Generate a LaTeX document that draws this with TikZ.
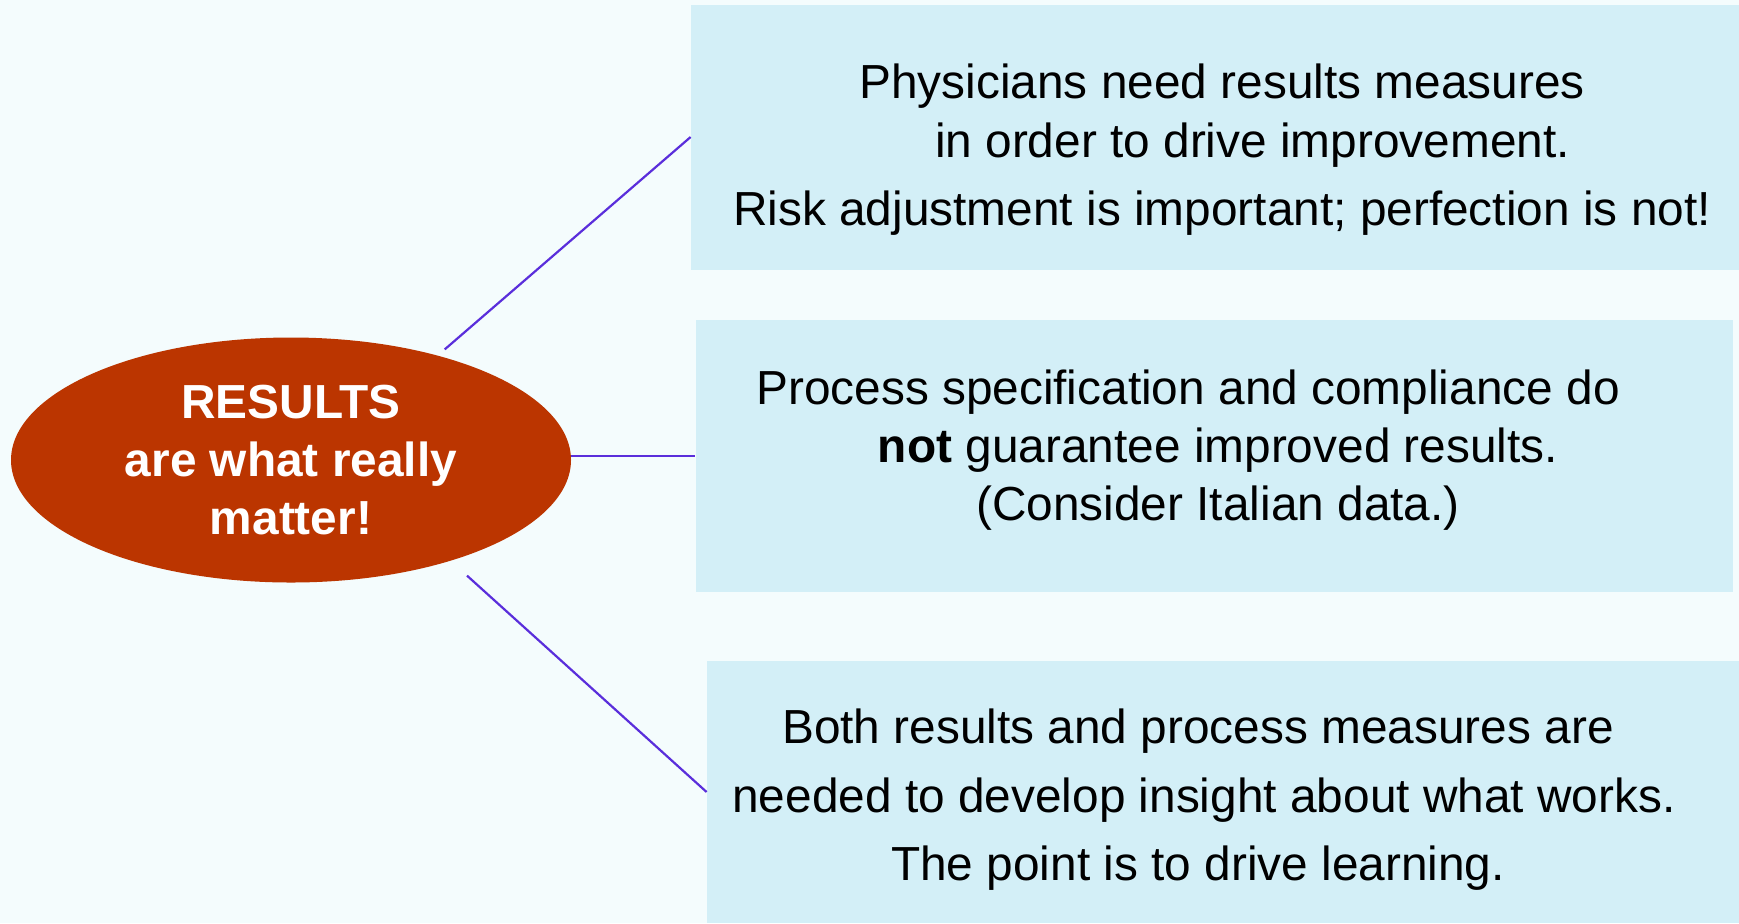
\documentclass[tikz,border=0pt]{standalone}
\usepackage{fontspec}
\setmainfont{Liberation Sans}
\usetikzlibrary{shapes.geometric}
\definecolor{bgcol}{HTML}{F4FCFD}
\definecolor{boxcol}{HTML}{D3EFF7}
\definecolor{rescol}{HTML}{BB3500}
\definecolor{linkcol}{HTML}{5A2EDB}
\newcommand{\px}{0.5pt}

\begin{document}
\begin{tikzpicture}[x=\px, y=-\px,
    box/.style={fill=boxcol, rectangle, inner sep=0pt},
    txt/.style={align=center, inner sep=0pt, font=\fontsize{23.9}{29.5}\selectfont},
    res/.style={ellipse, fill=rescol, text=white, inner sep=0pt, minimum width=560*\px, minimum height=245*\px, align=center, font=\bfseries\fontsize{23.9}{29}\selectfont},
    link/.style={draw=linkcol, line width=1.1pt}]
    \useasboundingbox (0,0) rectangle (1739,923);
    \fill[bgcol] (0,0) rectangle (1739,923);

    % Left
    \node[res] (res) at (291,460) {RESULTS\\are what really\\matter!};

    % Boxes
    \node[box, minimum width=1048*\px, minimum height=265*\px] (need) at (1215,137) {};
    \node[box, minimum width=1037*\px, minimum height=272*\px] (proc) at (1214,456) {};
    \node[box, minimum width=1032*\px, minimum height=262*\px] (both) at (1223,792) {};

    % Texts
    \node[txt] (need-t) at (1222,150) {Physicians need results measures\\\hspace*{30.5pt}in order to drive improvement.\\[4.5pt]Risk adjustment is important; perfection is not!};
    \node[txt, font=\fontsize{23.9}{29}\selectfont] (proc-t) at (1218,450) {Process specification and compliance do\hspace{30pt}\mbox{}\\\textbf{not} guarantee improved results.\\(Consider Italian data.)};
    \node[txt, font=\fontsize{23.9}{34.25}\selectfont] (both-t) at (1198,800) {Both results and process measures are\\\hspace*{6pt}needed to develop insight about what works.\\The point is to drive learning.};

    % Links
    \coordinate (res-top) at (444.7,349.4);
    \coordinate (res-bot) at (467,575.6);
    \draw[link] (res-top) -- (need.west);
    \draw[link] (res.east |- proc.west) -- (proc.west);
    \draw[link] (res-bot) -- (both.west);

\end{tikzpicture}
\end{document}
